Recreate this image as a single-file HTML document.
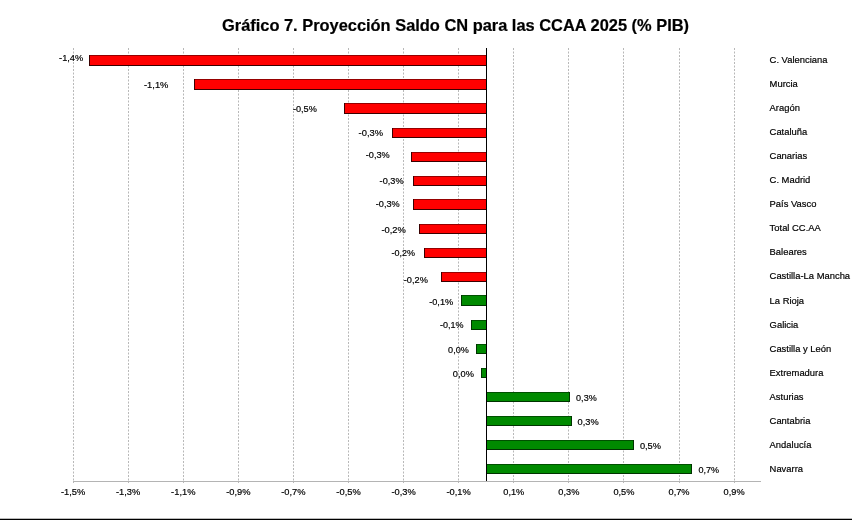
<!DOCTYPE html><html><head><meta charset="utf-8"><style>html,body{margin:0;padding:0;background:#fff;}svg{display:block;will-change:transform;}text{font-family:"Liberation Sans",sans-serif;fill:#000;stroke:#000;stroke-width:0.2px;}</style></head><body>
<svg width="852" height="520" viewBox="0 0 852 520">
<text x="222" y="31.1" font-size="16.3" font-weight="bold" stroke-width="0.1" textLength="467" lengthAdjust="spacingAndGlyphs">Gráfico 7. Proyección Saldo CN para las CCAA 2025 (% PIB)</text>
<line x1="73.5" y1="48" x2="73.5" y2="483" stroke="#b8b8b8" stroke-width="1" stroke-dasharray="2 1.5"/>
<text x="73.10" y="494.8" font-size="9.4" stroke-width="0.3" text-anchor="middle" textLength="24.3" lengthAdjust="spacingAndGlyphs">-1,5%</text>
<line x1="128.5" y1="48" x2="128.5" y2="483" stroke="#b8b8b8" stroke-width="1" stroke-dasharray="2 1.5"/>
<text x="128.18" y="494.8" font-size="9.4" stroke-width="0.3" text-anchor="middle" textLength="24.3" lengthAdjust="spacingAndGlyphs">-1,3%</text>
<line x1="183.5" y1="48" x2="183.5" y2="483" stroke="#b8b8b8" stroke-width="1" stroke-dasharray="2 1.5"/>
<text x="183.27" y="494.8" font-size="9.4" stroke-width="0.3" text-anchor="middle" textLength="24.3" lengthAdjust="spacingAndGlyphs">-1,1%</text>
<line x1="238.5" y1="48" x2="238.5" y2="483" stroke="#b8b8b8" stroke-width="1" stroke-dasharray="2 1.5"/>
<text x="238.35" y="494.8" font-size="9.4" stroke-width="0.3" text-anchor="middle" textLength="24.3" lengthAdjust="spacingAndGlyphs">-0,9%</text>
<line x1="293.5" y1="48" x2="293.5" y2="483" stroke="#b8b8b8" stroke-width="1" stroke-dasharray="2 1.5"/>
<text x="293.43" y="494.8" font-size="9.4" stroke-width="0.3" text-anchor="middle" textLength="24.3" lengthAdjust="spacingAndGlyphs">-0,7%</text>
<line x1="348.5" y1="48" x2="348.5" y2="483" stroke="#b8b8b8" stroke-width="1" stroke-dasharray="2 1.5"/>
<text x="348.52" y="494.8" font-size="9.4" stroke-width="0.3" text-anchor="middle" textLength="24.3" lengthAdjust="spacingAndGlyphs">-0,5%</text>
<line x1="403.5" y1="48" x2="403.5" y2="483" stroke="#b8b8b8" stroke-width="1" stroke-dasharray="2 1.5"/>
<text x="403.60" y="494.8" font-size="9.4" stroke-width="0.3" text-anchor="middle" textLength="24.3" lengthAdjust="spacingAndGlyphs">-0,3%</text>
<line x1="458.5" y1="48" x2="458.5" y2="483" stroke="#b8b8b8" stroke-width="1" stroke-dasharray="2 1.5"/>
<text x="458.68" y="494.8" font-size="9.4" stroke-width="0.3" text-anchor="middle" textLength="24.3" lengthAdjust="spacingAndGlyphs">-0,1%</text>
<line x1="513.5" y1="48" x2="513.5" y2="483" stroke="#b8b8b8" stroke-width="1" stroke-dasharray="2 1.5"/>
<text x="513.77" y="494.8" font-size="9.4" stroke-width="0.3" text-anchor="middle" textLength="21.0" lengthAdjust="spacingAndGlyphs">0,1%</text>
<line x1="568.5" y1="48" x2="568.5" y2="483" stroke="#b8b8b8" stroke-width="1" stroke-dasharray="2 1.5"/>
<text x="568.85" y="494.8" font-size="9.4" stroke-width="0.3" text-anchor="middle" textLength="21.0" lengthAdjust="spacingAndGlyphs">0,3%</text>
<line x1="623.5" y1="48" x2="623.5" y2="483" stroke="#b8b8b8" stroke-width="1" stroke-dasharray="2 1.5"/>
<text x="623.93" y="494.8" font-size="9.4" stroke-width="0.3" text-anchor="middle" textLength="21.0" lengthAdjust="spacingAndGlyphs">0,5%</text>
<line x1="679.5" y1="48" x2="679.5" y2="483" stroke="#b8b8b8" stroke-width="1" stroke-dasharray="2 1.5"/>
<text x="679.02" y="494.8" font-size="9.4" stroke-width="0.3" text-anchor="middle" textLength="21.0" lengthAdjust="spacingAndGlyphs">0,7%</text>
<line x1="734.5" y1="48" x2="734.5" y2="483" stroke="#b8b8b8" stroke-width="1" stroke-dasharray="2 1.5"/>
<text x="734.10" y="494.8" font-size="9.4" stroke-width="0.3" text-anchor="middle" textLength="21.0" lengthAdjust="spacingAndGlyphs">0,9%</text>
<rect x="73" y="481" width="688" height="1" fill="#b4b4b4"/>
<rect x="89" y="55" width="398" height="11" fill="#3a0000"/>
<rect x="90" y="56" width="396" height="9" fill="#ff0000"/>
<rect x="90" y="55" width="396" height="1" fill="#960000"/>
<text x="59.10" y="61.00" font-size="9.4" stroke-width="0.3" textLength="24.10" lengthAdjust="spacingAndGlyphs">-1,4%</text>
<rect x="194" y="79" width="293" height="11" fill="#3a0000"/>
<rect x="195" y="80" width="291" height="9" fill="#ff0000"/>
<rect x="195" y="79" width="291" height="1" fill="#960000"/>
<text x="144.00" y="87.90" font-size="9.4" stroke-width="0.3" textLength="24.40" lengthAdjust="spacingAndGlyphs">-1,1%</text>
<rect x="344" y="103" width="143" height="11" fill="#3a0000"/>
<rect x="345" y="104" width="141" height="9" fill="#ff0000"/>
<rect x="345" y="103" width="141" height="1" fill="#960000"/>
<text x="292.90" y="112.00" font-size="9.4" stroke-width="0.3" textLength="23.90" lengthAdjust="spacingAndGlyphs">-0,5%</text>
<rect x="392" y="128" width="95" height="10" fill="#3a0000"/>
<rect x="393" y="129" width="93" height="8" fill="#ff0000"/>
<rect x="393" y="128" width="93" height="1" fill="#960000"/>
<text x="358.60" y="136.10" font-size="9.4" stroke-width="0.3" textLength="24.40" lengthAdjust="spacingAndGlyphs">-0,3%</text>
<rect x="411" y="152" width="76" height="10" fill="#3a0000"/>
<rect x="412" y="153" width="74" height="8" fill="#ff0000"/>
<rect x="412" y="152" width="74" height="1" fill="#960000"/>
<text x="365.80" y="158.20" font-size="9.4" stroke-width="0.3" textLength="23.90" lengthAdjust="spacingAndGlyphs">-0,3%</text>
<rect x="413" y="176" width="74" height="10" fill="#3a0000"/>
<rect x="414" y="177" width="72" height="8" fill="#ff0000"/>
<rect x="414" y="176" width="72" height="1" fill="#960000"/>
<text x="379.60" y="184.40" font-size="9.4" stroke-width="0.3" textLength="23.95" lengthAdjust="spacingAndGlyphs">-0,3%</text>
<rect x="413" y="199" width="74" height="11" fill="#3a0000"/>
<rect x="414" y="200" width="72" height="9" fill="#ff0000"/>
<rect x="414" y="199" width="72" height="1" fill="#960000"/>
<text x="375.80" y="206.50" font-size="9.4" stroke-width="0.3" textLength="23.90" lengthAdjust="spacingAndGlyphs">-0,3%</text>
<rect x="419" y="224" width="68" height="10" fill="#3a0000"/>
<rect x="420" y="225" width="66" height="8" fill="#ff0000"/>
<rect x="420" y="224" width="66" height="1" fill="#960000"/>
<text x="381.40" y="232.50" font-size="9.4" stroke-width="0.3" textLength="24.40" lengthAdjust="spacingAndGlyphs">-0,2%</text>
<rect x="424" y="248" width="63" height="10" fill="#3a0000"/>
<rect x="425" y="249" width="61" height="8" fill="#ff0000"/>
<rect x="425" y="248" width="61" height="1" fill="#960000"/>
<text x="391.50" y="256.10" font-size="9.4" stroke-width="0.3" textLength="23.50" lengthAdjust="spacingAndGlyphs">-0,2%</text>
<rect x="441" y="272" width="46" height="10" fill="#3a0000"/>
<rect x="442" y="273" width="44" height="8" fill="#ff0000"/>
<rect x="442" y="272" width="44" height="1" fill="#960000"/>
<text x="403.80" y="282.50" font-size="9.4" stroke-width="0.3" textLength="24.10" lengthAdjust="spacingAndGlyphs">-0,2%</text>
<rect x="461" y="295" width="26" height="11" fill="#003300"/>
<rect x="462" y="296" width="24" height="9" fill="#008a00"/>
<rect x="462" y="295" width="24" height="1" fill="#005000"/>
<text x="429.20" y="304.80" font-size="9.4" stroke-width="0.3" textLength="24.00" lengthAdjust="spacingAndGlyphs">-0,1%</text>
<rect x="471" y="320" width="16" height="10" fill="#003300"/>
<rect x="472" y="321" width="14" height="8" fill="#008a00"/>
<rect x="472" y="320" width="14" height="1" fill="#005000"/>
<text x="439.90" y="328.40" font-size="9.4" stroke-width="0.3" textLength="23.50" lengthAdjust="spacingAndGlyphs">-0,1%</text>
<rect x="476" y="344" width="11" height="10" fill="#003300"/>
<rect x="477" y="345" width="9" height="8" fill="#008a00"/>
<rect x="477" y="344" width="9" height="1" fill="#005000"/>
<text x="448.10" y="352.60" font-size="9.4" stroke-width="0.3" textLength="20.70" lengthAdjust="spacingAndGlyphs">0,0%</text>
<rect x="481" y="368" width="6" height="10" fill="#003300"/>
<rect x="482" y="369" width="4" height="8" fill="#008a00"/>
<rect x="482" y="368" width="4" height="1" fill="#005000"/>
<text x="452.80" y="376.80" font-size="9.4" stroke-width="0.3" textLength="21.10" lengthAdjust="spacingAndGlyphs">0,0%</text>
<rect x="486" y="392" width="84" height="10" fill="#003300"/>
<rect x="487" y="393" width="82" height="8" fill="#008a00"/>
<rect x="487" y="392" width="82" height="1" fill="#005000"/>
<text x="576.10" y="401.00" font-size="9.4" stroke-width="0.3" textLength="20.60" lengthAdjust="spacingAndGlyphs">0,3%</text>
<rect x="486" y="416" width="86" height="10" fill="#003300"/>
<rect x="487" y="417" width="84" height="8" fill="#008a00"/>
<rect x="487" y="416" width="84" height="1" fill="#005000"/>
<text x="577.60" y="424.80" font-size="9.4" stroke-width="0.3" textLength="21.10" lengthAdjust="spacingAndGlyphs">0,3%</text>
<rect x="486" y="440" width="148" height="10" fill="#003300"/>
<rect x="487" y="441" width="146" height="8" fill="#008a00"/>
<rect x="487" y="440" width="146" height="1" fill="#005000"/>
<text x="639.90" y="448.90" font-size="9.4" stroke-width="0.3" textLength="21.10" lengthAdjust="spacingAndGlyphs">0,5%</text>
<rect x="486" y="464" width="206" height="10" fill="#003300"/>
<rect x="487" y="465" width="204" height="8" fill="#008a00"/>
<rect x="487" y="464" width="204" height="1" fill="#005000"/>
<text x="698.40" y="472.50" font-size="9.4" stroke-width="0.3" textLength="20.60" lengthAdjust="spacingAndGlyphs">0,7%</text>
<rect x="486" y="48" width="1" height="433" fill="#000"/>
<text x="769.6" y="62.90" font-size="9.9" stroke-width="0.2" textLength="57.86" lengthAdjust="spacingAndGlyphs">C. Valenciana</text>
<text x="769.6" y="86.96" font-size="9.9" stroke-width="0.2" textLength="28.22" lengthAdjust="spacingAndGlyphs">Murcia</text>
<text x="769.6" y="111.02" font-size="9.9" stroke-width="0.2" textLength="30.33" lengthAdjust="spacingAndGlyphs">Aragón</text>
<text x="769.6" y="135.08" font-size="9.9" stroke-width="0.2" textLength="37.65" lengthAdjust="spacingAndGlyphs">Cataluña</text>
<text x="769.6" y="159.14" font-size="9.9" stroke-width="0.2" textLength="37.64" lengthAdjust="spacingAndGlyphs">Canarias</text>
<text x="769.6" y="183.20" font-size="9.9" stroke-width="0.2" textLength="40.77" lengthAdjust="spacingAndGlyphs">C. Madrid</text>
<text x="769.6" y="207.26" font-size="9.9" stroke-width="0.2" textLength="46.87" lengthAdjust="spacingAndGlyphs">País Vasco</text>
<text x="769.6" y="231.32" font-size="9.9" stroke-width="0.2" textLength="51.22" lengthAdjust="spacingAndGlyphs">Total CC.AA</text>
<text x="769.6" y="255.38" font-size="9.9" stroke-width="0.2" textLength="37.12" lengthAdjust="spacingAndGlyphs">Baleares</text>
<text x="769.6" y="279.44" font-size="9.9" stroke-width="0.2" textLength="80.50" lengthAdjust="spacingAndGlyphs">Castilla-La Mancha</text>
<text x="769.6" y="303.50" font-size="9.9" stroke-width="0.2" textLength="34.51" lengthAdjust="spacingAndGlyphs">La Rioja</text>
<text x="769.6" y="327.56" font-size="9.9" stroke-width="0.2" textLength="28.75" lengthAdjust="spacingAndGlyphs">Galicia</text>
<text x="769.6" y="351.62" font-size="9.9" stroke-width="0.2" textLength="61.69" lengthAdjust="spacingAndGlyphs">Castilla y León</text>
<text x="769.6" y="375.68" font-size="9.9" stroke-width="0.2" textLength="53.84" lengthAdjust="spacingAndGlyphs">Extremadura</text>
<text x="769.6" y="399.74" font-size="9.9" stroke-width="0.2" textLength="33.97" lengthAdjust="spacingAndGlyphs">Asturias</text>
<text x="769.6" y="423.80" font-size="9.9" stroke-width="0.2" textLength="40.78" lengthAdjust="spacingAndGlyphs">Cantabria</text>
<text x="769.6" y="447.86" font-size="9.9" stroke-width="0.2" textLength="41.83" lengthAdjust="spacingAndGlyphs">Andalucía</text>
<text x="769.6" y="471.92" font-size="9.9" stroke-width="0.2" textLength="33.45" lengthAdjust="spacingAndGlyphs">Navarra</text>
<rect x="0" y="519" width="852" height="1" fill="#000"/>
<rect x="0" y="518" width="852" height="1" fill="#bbb"/>
</svg></body></html>
